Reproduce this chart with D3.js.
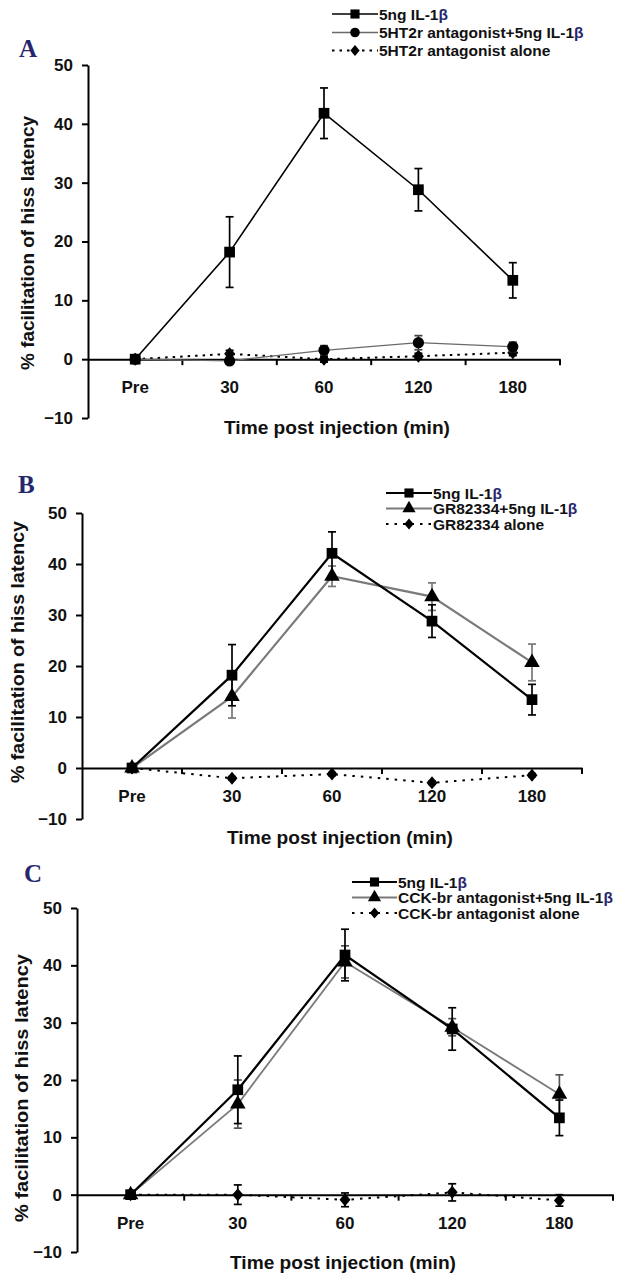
<!DOCTYPE html>
<html>
<head>
<meta charset="utf-8">
<script src="https://cdn.jsdelivr.net/npm/d3@7"></script>
<style>
  html, body { margin: 0; padding: 0; background: #fff; }
  svg { display: block; }
  text { font-family: "Liberation Sans", Arial, sans-serif; }
</style>
</head>
<body>
<svg id="chart" width="628" height="1280"></svg>
<script>
// ---------- data ----------
const categories = ["Pre", "30", "60", "120", "180"];
const yTicks = [-10, 0, 10, 20, 30, 40, 50];
const xTitle = "Time post injection (min)";
const yTitle = "% facilitation of hiss latency";

// Panel A
const aLabels = ["5ng IL-1", "5HT2r antagonist+5ng IL-1", "5HT2r antagonist alone"];
const aIL1b = [0, 18.2, 41.8, 28.8, 13.4];
const aIL1bErr = [0, 6.0, 4.3, 3.6, 3.0];
const a5HT2rIL1b = [0, -0.3, 1.5, 2.8, 2.1];
const a5HT2rIL1bErr = [0, 0.5, 0.8, 1.2, 0.8];
const a5HT2rAlone = [0, 0.9, 0.0, 0.5, 1.1];
const a5HT2rAloneErr = [0, 0.6, 0.5, 0.5, 0.5];

// Panel B
const bLabels = ["5ng IL-1", "GR82334+5ng IL-1", "GR82334 alone"];
const bIL1b = [0, 18.2, 42.1, 28.8, 13.4];
const bIL1bErr = [0, 6.0, 4.2, 3.2, 3.0];
const bGR = [0, 14.0, 37.6, 33.6, 20.7];
const bGRErr = [0, 4.2, 2.0, 2.7, 3.6];
const bGRAlone = [0, -2.0, -1.2, -2.9, -1.4];
const bGRAloneErr = [0, 0.3, 0.3, 0.3, 0.3];

// Panel C
const cLabels = ["5ng IL-1", "CCK-br antagonist+5ng IL-1", "CCK-br antagonist alone"];
const cIL1b = [0, 18.3, 41.8, 28.9, 13.4];
const cIL1bErr = [0, 5.9, 4.5, 3.7, 3.1];
const cCCK = [0, 15.8, 40.6, 29.2, 17.5];
const cCCKErr = [0, 4.2, 2.8, 1.5, 3.4];
const cCCKAlone = [0, 0.0, -0.9, 0.4, -1.0];
const cCCKAloneErr = [0, 1.7, 1.2, 1.5, 1.0];

// ---------- drawing ----------
const svg = d3.select("#chart");
const NAVY = "#26266e";

const panels = [
  {
    letter: "A", letterPos: [19, 57],
    x0: 88, x1: 560, yTop: 65, yBot: 418,
    yLabelPos: [28, 243], yLabelLen: 254, xTitlePos: [337, 434], xTitleLen: 226,
    legend: { x0: 332, x1: 378, tx: 379, rows: [14, 32.5, 50.5] },
    series: [
      { label: aLabels[2], v: a5HT2rAlone, e: a5HT2rAloneErr, color: "#000", width: 2, dash: "2.5,5", marker: "diamond", ecolor: "#000" },
      { label: aLabels[1], v: a5HT2rIL1b, e: a5HT2rIL1bErr, color: "#6a6a6a", width: 1.3, dash: null, marker: "circle", ecolor: "#444" },
      { label: aLabels[0], v: aIL1b, e: aIL1bErr, color: "#000", width: 1.6, dash: null, marker: "square", ecolor: "#000" }
    ],
    legendOrder: [2, 1, 0]
  },
  {
    letter: "B", letterPos: [18, 493],
    x0: 82, x1: 582, yTop: 513, yBot: 819,
    yLabelPos: [18, 652], yLabelLen: 262, xTitlePos: [340, 844], xTitleLen: 226,
    legend: { x0: 386, x1: 432, tx: 433, rows: [493, 508.5, 524] },
    series: [
      { label: bLabels[2], v: bGRAlone, e: bGRAloneErr, color: "#000", width: 2, dash: "2.5,6", marker: "diamond", ecolor: "#000" },
      { label: bLabels[1], v: bGR, e: bGRErr, color: "#7a7a7a", width: 2.2, dash: null, marker: "triangle", ecolor: "#777" },
      { label: bLabels[0], v: bIL1b, e: bIL1bErr, color: "#000", width: 2.2, dash: null, marker: "square", ecolor: "#000" }
    ],
    legendOrder: [2, 1, 0]
  },
  {
    letter: "C", letterPos: [24, 882],
    x0: 77, x1: 613, yTop: 908, yBot: 1252,
    yLabelPos: [22, 1088], yLabelLen: 268, xTitlePos: [343, 1269], xTitleLen: 226,
    legend: { x0: 352, x1: 397, tx: 398, rows: [882, 897.5, 913] },
    series: [
      { label: cLabels[2], v: cCCKAlone, e: cCCKAloneErr, color: "#000", width: 2, dash: "2.5,6", marker: "diamond", ecolor: "#000" },
      { label: cLabels[1], v: cCCK, e: cCCKErr, color: "#7a7a7a", width: 1.8, dash: null, marker: "triangle", ecolor: "#555" },
      { label: cLabels[0], v: cIL1b, e: cIL1bErr, color: "#000", width: 2.2, dash: null, marker: "square", ecolor: "#000" }
    ],
    legendOrder: [2, 1, 0]
  }
];

function markerPath(type) {
  switch (type) {
    case "square": return d3.symbol(d3.symbolSquare, 115)();
    case "circle": return d3.symbol(d3.symbolCircle, 100)();
    case "triangle": return d3.symbol(d3.symbolTriangle, 105)();
    case "diamond": return "M0,-6.5L5.5,0L0,6.5L-5.5,0Z";
  }
}

panels.forEach(p => {
  const g = svg.append("g");
  const x = d3.scaleBand().domain(categories).range([p.x0, p.x1]).paddingInner(0).paddingOuter(0);
  const y = d3.scaleLinear().domain([-10, 50]).range([p.yBot, p.yTop]);
  const cx = c => x(c) + x.bandwidth() / 2;

  // panel letter
  g.append("text")
    .attr("x", p.letterPos[0]).attr("y", p.letterPos[1])
    .style("font-family", "'Liberation Serif', 'Times New Roman', serif")
    .attr("font-weight", "bold").attr("font-size", 25)
    .attr("fill", NAVY).text(p.letter);

  // y axis
  const yAx = g.append("g").attr("transform", `translate(${p.x0},0)`)
    .call(d3.axisLeft(y).tickValues(yTicks).tickSize(6).tickPadding(9).tickSizeOuter(0));
  yAx.selectAll("path.domain").attr("stroke", "#000").attr("stroke-width", 2);
  yAx.selectAll(".tick line").attr("stroke", "#000").attr("stroke-width", 2);
  yAx.selectAll(".tick text").attr("font-size", 17).attr("font-weight", "bold")
    .attr("fill", "#111").style("font-family", "'Liberation Sans', Arial, sans-serif");

  // x axis at y=0
  const xAx = g.append("g").attr("transform", `translate(0,${y(0)})`)
    .call(d3.axisBottom(x).tickSize(0).tickPadding(22).tickSizeOuter(0));
  xAx.selectAll("path.domain").attr("stroke", "#000").attr("stroke-width", 2);
  xAx.selectAll(".tick text").attr("font-size", 17).attr("font-weight", "bold")
    .attr("fill", "#111").style("font-family", "'Liberation Sans', Arial, sans-serif");
  const bounds = categories.map(c => x(c)).concat([p.x1]).slice(1);
  xAx.selectAll("line.bt").data(bounds).join("line").attr("class", "bt")
    .attr("x1", d => d).attr("x2", d => d).attr("y1", 0).attr("y2", 6)
    .attr("stroke", "#000").attr("stroke-width", 2);

  // axis titles
  g.append("text")
    .attr("transform", `translate(${p.yLabelPos[0]},${p.yLabelPos[1]}) rotate(-90)`)
    .attr("text-anchor", "middle").attr("dy", "0.35em")
    .attr("font-size", 17.5).attr("font-weight", "bold").attr("fill", "#111")
    .attr("textLength", p.yLabelLen).attr("lengthAdjust", "spacingAndGlyphs")
    .text(yTitle);
  g.append("text")
    .attr("x", p.xTitlePos[0]).attr("y", p.xTitlePos[1])
    .attr("text-anchor", "middle")
    .attr("font-size", 18).attr("font-weight", "bold").attr("fill", "#111")
    .attr("textLength", p.xTitleLen).attr("lengthAdjust", "spacingAndGlyphs")
    .text(xTitle);

  // series
  p.series.forEach(s => {
    const pts = categories.map((c, i) => ({ c, v: s.v[i], e: s.e[i] }));
    const sg = g.append("g");
    sg.append("path").datum(pts)
      .attr("fill", "none").attr("stroke", s.color).attr("stroke-width", s.width)
      .attr("stroke-dasharray", s.dash)
      .attr("d", d3.line().x(d => cx(d.c)).y(d => y(d.v)));
    const eb = sg.selectAll("g.eb").data(pts.filter(d => d.e > 0)).join("g").attr("class", "eb")
      .attr("stroke", s.ecolor).attr("stroke-width", 1.7);
    eb.append("line").attr("x1", d => cx(d.c)).attr("x2", d => cx(d.c))
      .attr("y1", d => y(d.v - d.e)).attr("y2", d => y(d.v + d.e));
    eb.append("line").attr("x1", d => cx(d.c) - 4).attr("x2", d => cx(d.c) + 4)
      .attr("y1", d => y(d.v + d.e)).attr("y2", d => y(d.v + d.e));
    eb.append("line").attr("x1", d => cx(d.c) - 4).attr("x2", d => cx(d.c) + 4)
      .attr("y1", d => y(d.v - d.e)).attr("y2", d => y(d.v - d.e));
    sg.selectAll("path.mk").data(pts).join("path").attr("class", "mk")
      .attr("d", markerPath(s.marker))
      .attr("transform", d => `translate(${cx(d.c)},${y(d.v)})`)
      .attr("fill", "#000");
  });

  // legend
  const L = p.legend;
  p.legendOrder.forEach((si, k) => {
    const s = p.series[si];
    const ry = L.rows[k];
    const lg = g.append("g");
    lg.append("line").attr("x1", L.x0).attr("x2", L.x1).attr("y1", ry).attr("y2", ry)
      .attr("stroke", s.color).attr("stroke-width", s.width).attr("stroke-dasharray", s.dash);
    lg.append("path").attr("d", markerPath(s.marker))
      .attr("transform", `translate(${(L.x0 + L.x1) / 2},${ry}) scale(0.85)`).attr("fill", "#000");
    const t = lg.append("text").attr("x", L.tx).attr("y", ry).attr("dy", "0.36em")
      .attr("font-size", 15.5).attr("font-weight", "bold").attr("fill", "#111");
    t.append("tspan").text(s.label);
    if (s.label.endsWith("IL-1")) t.append("tspan").attr("fill", NAVY).text("β");
  });
});
</script>
</body>
</html>
